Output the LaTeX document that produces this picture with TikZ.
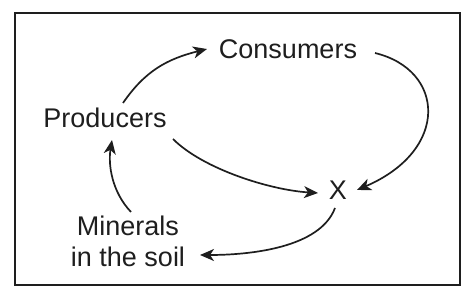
\documentclass[tikz,border=0pt]{standalone}
\usepackage{fontspec}
\setmainfont{Liberation Sans}
\usetikzlibrary{arrows.meta, calc}
\definecolor{mydark}{RGB}{30,30,30}
\tikzset{
  word/.style={inner sep=0pt, font=\fontsize{27}{31}\selectfont, text=mydark},
  arrow/.style={-{Stealth[length=14pt, width=12pt, inset=4pt]}, line width=1.7pt, color=mydark},
  frame/.style={line width=2.6pt, color=mydark}
}

\begin{document}
\begin{tikzpicture}[x=1pt, y=1pt]
  \useasboundingbox (0,0) rectangle (472,300);

  % Frame
  \draw[frame] (15,15) rectangle (460,287);

  % Labels
  \node[word, anchor=base] (cons) at (288,241) {Consumers};
  \node[word, anchor=base] (prod) at (105,172) {Producers};
  \node[word, anchor=base] (x) at (338,100) {X};
  \node[word, anchor=base, align=center] (min) at (128,33) {Minerals\\in the soil};

  % Cycle
  \draw[arrow] ($(prod.base)+(18,25)$) .. controls +(22,32) and +(-40,-10) .. ($(cons.base)+(-81,10)$);
  \draw[arrow] ($(cons.base)+(87,6)$) .. controls +(70,-17) and +(93,40) .. ($(x.base)+(19,10)$);
  \draw[arrow] ($(prod.base)+(68,-11)$) .. controls +(30,-30) and +(-48,3) .. ($(x.base)+(-20,7)$);
  \draw[arrow] ($(x.base)+(-3,-8)$) .. controls +(-15,-40) and +(50,0) .. ($(min.base)+(72,12)$);
  \draw[arrow] ($(min.base)+(3,55)$) .. controls +(-19,20) and +(-4,-25) .. ($(prod.base)+(7,-12)$);
\end{tikzpicture}
\end{document}
